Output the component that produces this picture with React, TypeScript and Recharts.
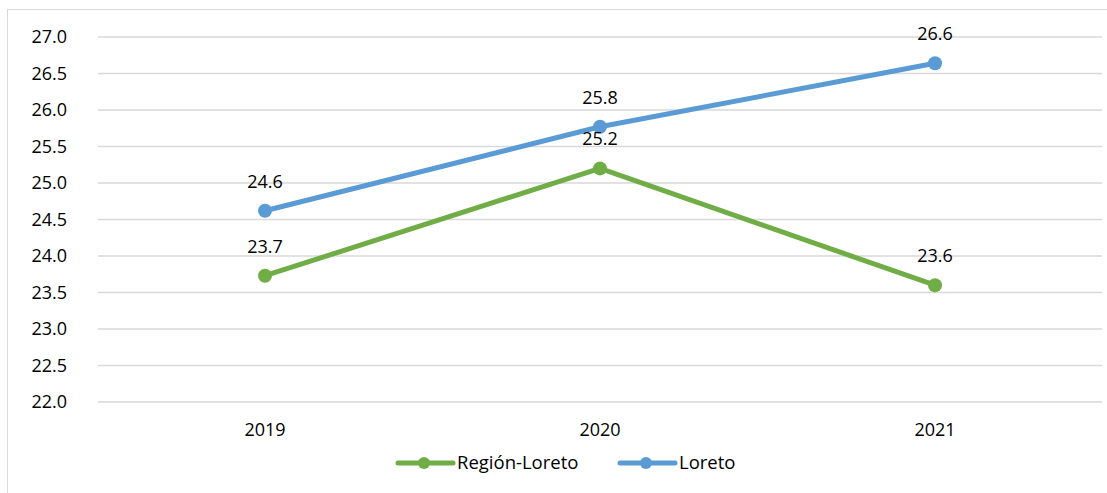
import { LineChart, Line, XAxis, YAxis, CartesianGrid, LabelList } from 'recharts'

const years = ['2019', '2020', '2021']
const regionLoreto = [23.73, 25.2, 23.6]
const loreto = [24.62, 25.77, 26.64]
const yTicks = [22, 22.5, 23, 23.5, 24, 24.5, 25, 25.5, 26, 26.5, 27]

const GREEN = '#70ad47'
const BLUE = '#5b9bd5'
const FONT = '"Open Sans", "Noto Sans", sans-serif'

const chartData = years.map((y, i) => ({
  year: y,
  region: regionLoreto[i],
  loreto: loreto[i],
}))

const legendItems = [
  { label: 'Región-Loreto', color: GREEN, x: 398 },
  { label: 'Loreto', color: BLUE, x: 620 },
]

function ChartLegend() {
  return (
    <svg width={1107} height={26} style={{ position: 'absolute', left: 0, top: 450 }}>
      {legendItems.map(it => (
        <g key={it.label}>
          <line x1={it.x} x2={it.x + 55} y1={13} y2={13} stroke={it.color} strokeWidth={5} strokeLinecap="round" />
          <circle cx={it.x + 26} cy={13} r={6} fill={it.color} />
          <text x={it.x + 59} y={13} dy="0.35em" fontSize={18.5} fill="#000" fontFamily={FONT}>{it.label}</text>
        </g>
      ))}
    </svg>
  )
}

export default function App() {
  return (
    <div style={{ position: 'absolute', left: 0, top: 0, width: 1107, height: 493, background: '#fff', overflow: 'hidden', fontFamily: FONT }}>
      <div style={{ position: 'absolute', left: 7, top: 9, width: 1200, height: 600, border: '1.5px solid #d9d9d9' }} />
      <div style={{ position: 'absolute', left: 0, top: 0 }}>
        <LineChart width={1107} height={493} data={chartData} margin={{ top: 37, right: 5, left: 0, bottom: 0 }}>
          <CartesianGrid vertical={false} stroke="#d9d9d9" strokeWidth={1.5} />
          <XAxis dataKey="year" axisLine={false} tickLine={false} tickMargin={15} height={91}
            padding={{ left: 167, right: 167 }}
            tick={{ fontSize: 18, fill: '#000', fontFamily: FONT }} />
          <YAxis width={98} domain={[22, 27]} ticks={yTicks} interval={0} axisLine={false} tickLine={false} tickMargin={25}
            tickFormatter={(v: number) => v.toFixed(1)}
            tick={{ fontSize: 18, fill: '#000', fontFamily: FONT }} />
          <Line name="Región-Loreto" dataKey="region" stroke={GREEN} strokeWidth={5} isAnimationActive={false}
            dot={{ r: 7, fill: GREEN, stroke: GREEN, strokeWidth: 0 }} activeDot={false}>
            <LabelList dataKey="region" position="top" offset={23} formatter={(v: any) => Number(v).toFixed(1)}
              style={{ fontSize: 18, fill: '#000', fontFamily: FONT }} />
          </Line>
          <Line name="Loreto" dataKey="loreto" stroke={BLUE} strokeWidth={5} isAnimationActive={false}
            dot={{ r: 7, fill: BLUE, stroke: BLUE, strokeWidth: 0 }} activeDot={false}>
            <LabelList dataKey="loreto" position="top" offset={23} formatter={(v: any) => Number(v).toFixed(1)}
              style={{ fontSize: 18, fill: '#000', fontFamily: FONT }} />
          </Line>
        </LineChart>
      </div>
      <ChartLegend />
    </div>
  )
}
